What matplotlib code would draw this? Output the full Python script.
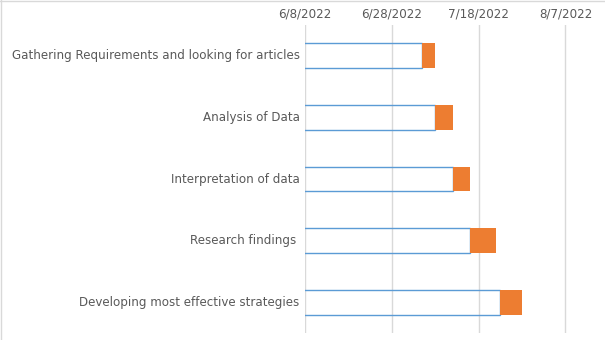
import datetime as dt
import matplotlib
matplotlib.use("Agg")
import matplotlib.pyplot as plt
import matplotlib.dates as mdates
from matplotlib.lines import Line2D

# data
tasks = ["Gathering Requirements and looking for articles",
         "Analysis of Data",
         "Interpretation of data",
         "Research findings ",
         "Developing most effective strategies"]
start_dates = ["2022-07-05", "2022-07-08", "2022-07-12", "2022-07-16", "2022-07-23"]
durations = [3, 4, 4, 6, 5]          # days
tick_dates = ["2022-06-08", "2022-06-28", "2022-07-18", "2022-08-07"]

W, H = 605, 340
fig = plt.figure(figsize=(W / 100, H / 100), dpi=100)
# plot area in pixels: x 305..605, y 25..333
ax = fig.add_axes([305.3 / W, 1 - 333 / H, (604.5 - 305.3) / W, (333 - 25) / H])

starts = [mdates.date2num(dt.date.fromisoformat(d)) for d in start_dates]
ticks = [mdates.date2num(dt.date.fromisoformat(d)) for d in tick_dates]
ypos = list(range(len(tasks)))

# start part: no fill, blue outline, drawn from 0 like Excel (clipped at axis min)
ax.barh(ypos, starts, left=0, height=0.4, facecolor="none",
        edgecolor="#5b9bd5", linewidth=1.0, zorder=3)
ax.barh(ypos, durations, left=starts, height=0.4, color="#ed7d31",
        linewidth=0, zorder=3)

ax.set_xlim(ticks[0], ticks[0] + 69)
ax.set_ylim(len(tasks) - 0.5, -0.5)
ax.set_xticks(ticks)
ax.set_xticklabels([f"{d.month}/{d.day}/{d.year}" for d in
                    (dt.date.fromisoformat(t) for t in tick_dates)])
ax.set_yticks(ypos)
ax.set_yticklabels(tasks, va="center")
ax.xaxis.tick_top()
ax.tick_params(axis="both", length=0, labelsize=8.6, labelcolor="#595959")
ax.tick_params(axis="x", pad=3)
ax.tick_params(axis="y", pad=4)
for sp in ax.spines.values():
    sp.set_visible(False)
ax.grid(axis="x", color="#d9d9d9", linewidth=1.0, zorder=0)
ax.set_axisbelow(True)

# chart border (only left and top edges are visible in the picture)
fig.add_artist(Line2D([0.5 / W, 0.5 / W], [0, 1], color="#d9d9d9", linewidth=1.0))
fig.add_artist(Line2D([0, 1], [1 - 0.5 / H, 1 - 0.5 / H], color="#d9d9d9", linewidth=1.0))

fig.savefig("out.png", dpi=100, facecolor="white")
